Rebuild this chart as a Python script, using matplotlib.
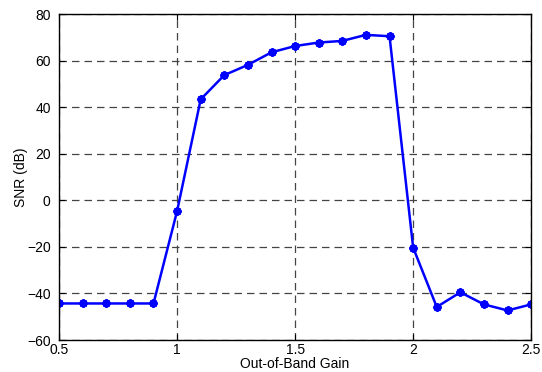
import numpy as np
import matplotlib
matplotlib.use('Agg')
import matplotlib.pyplot as plt

# Datos
gain = [0.5, 0.6, 0.7, 0.8, 0.9, 1.0, 1.1, 1.2, 1.3, 1.4, 1.5,
        1.6, 1.7, 1.8, 1.9, 2.0, 2.1, 2.2, 2.3, 2.4, 2.5]
snr = [-44.3, -44.3, -44.3, -44.3, -44.3, -4.6, 43.4, 53.8, 58.2, 63.6, 66.3,
       67.8, 68.5, 71.1, 70.5, -20.3, -45.8, -39.5, -44.7, -47.3, -44.7]

plt.rcParams['font.family'] = ['Liberation Sans', 'DejaVu Sans']

fig = plt.figure(figsize=(5.42, 3.72), dpi=100)
ax = fig.add_axes([0.109, 0.086, 0.871, 0.876])

ax.plot(gain, snr, color='#0000ff', linewidth=1.8, marker=(8, 2, 0),
        markersize=6, markeredgewidth=1.6, markeredgecolor='#0000ff')

ax.set_xlim(0.5, 2.5)
ax.set_ylim(-60, 80)
ax.set_xticks([0.5, 1, 1.5, 2, 2.5])
ax.set_xticklabels(['0.5', '1', '1.5', '2', '2.5'])
ax.set_yticks(np.arange(-60, 81, 20))
ax.grid(True, linestyle=(0, (6, 4)), color='#444444', linewidth=0.9)
ax.tick_params(direction='in', labelsize=10, length=4, top=True, right=True,
               labeltop=False, labelright=False)
ax.tick_params(axis='y', pad=6)
ax.tick_params(axis='x', pad=2)
for s in ax.spines.values():
    s.set_linewidth(1.0)

ax.set_xlabel('Out-of-Band Gain', fontsize=10, labelpad=0)
ax.set_ylabel('SNR (dB)', fontsize=10, labelpad=-1)

fig.savefig('out.png', dpi=100)
